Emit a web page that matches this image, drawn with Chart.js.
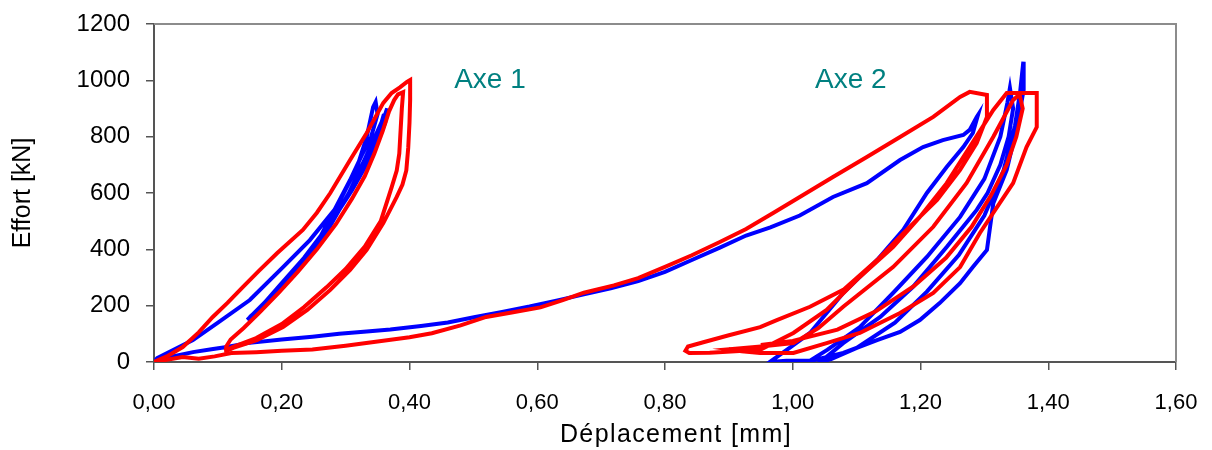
<!DOCTYPE html>
<html>
<head>
<meta charset="utf-8">
<script src="https://cdn.jsdelivr.net/npm/chart.js@4.4.1/dist/chart.umd.min.js"></script>
<style>
  body { margin: 0; background: #fff; }
  #wrap { width: 1212px; height: 450px; }
</style>
</head>
<body>
<div id="wrap"><canvas id="myChart"></canvas></div>
<script>
// Axe 1 - red loops (deplacement mm, effort kN)
let redAxe1 = [[0,0],[0.02,20],[0.045,53],[0.07,105],[0.092,160],[0.115,210],[0.139,266],[0.165,325],[0.193,387],[0.233,469],[0.255,530],[0.276,600],[0.307,717],[0.333,813],[0.359,920],[0.372,955],[0.385,975],[0.396,994],[0.401,1001],
  [0.401,930],[0.400,850],[0.398,760],[0.395,680],[0.389,630],[0.380,586],[0.359,493],[0.333,398],[0.307,327],[0.276,256],[0.240,185],[0.202,124],[0.161,78],[0.124,50],[0.114,40],
  [0.113,55],[0.12,80],[0.14,120],[0.165,175],[0.195,245],[0.225,320],[0.255,400],[0.285,490],[0.31,580],[0.33,660],[0.345,740],[0.358,820],[0.368,890],[0.376,930],[0.382,950],[0.39,958],
  [0.388,900],[0.386,820],[0.384,740],[0.380,680],[0.372,620],[0.355,500],[0.33,410],[0.30,330],[0.27,265],[0.235,195],[0.20,135],[0.16,85],[0.125,55],[0.11,40]];

// red curve going from axe 1 to axe 2, then the axe 2 loops
let redAxe2 = [[0,0],[0.02,8],[0.045,18],[0.07,12],[0.095,20],[0.121,32],[0.16,35],[0.2,40],[0.248,44],[0.30,58],[0.350,73],[0.40,88],[0.435,102],[0.48,130],[0.520,160],[0.56,176],[0.605,194],[0.64,220],[0.673,246],[0.72,272],[0.758,298],[0.80,338],[0.842,379],[0.885,425],[0.927,472],[0.97,530],[1.011,586],[1.063,657],[1.116,728],[1.168,799],[1.220,870],[1.262,941],[1.277,959],[1.304,948],[1.304,870],
  [1.288,777],[1.262,682],[1.226,575],[1.183,480],[1.132,362],[1.079,256],[1.027,196],[0.975,149],[0.949,124],[0.90,95],[0.86,70],[0.836,55],[0.832,40],[0.838,32],[0.87,33],[0.91,38],[0.949,43],
  [1.001,103],[1.053,185],[1.105,302],[1.157,408],[1.199,515],[1.241,635],[1.277,763],[1.314,895],[1.335,955],[1.382,955],[1.382,834],
  [1.366,763],[1.345,635],[1.324,564],[1.293,458],[1.262,337],[1.220,245],[1.168,174],[1.105,103],[1.053,67],[1.001,32],[0.949,32],[0.92,38],[0.90,45],
  [0.95,55],[1.001,67],[1.04,120],[1.079,196],[1.157,337],[1.220,480],[1.272,635],[1.314,800],[1.345,930],[1.355,950],[1.36,900],
  [1.35,800],[1.335,700],[1.31,590],[1.28,480],[1.24,370],[1.19,270],[1.13,180],[1.07,115],[1.00,75],[0.95,60]];

// Axe 1 - blue loops
let blueAxe1 = [[0,0],[0.005,14],[0.061,78],[0.099,138],[0.150,220],[0.202,337],[0.244,433],[0.286,550],[0.318,692],[0.333,799],[0.343,905],[0.347,923],
  [0.350,880],[0.340,800],[0.327,742],[0.307,646],[0.280,529],[0.255,422],[0.218,316],[0.182,231],[0.146,149],
  [0.16,175],[0.20,262],[0.24,372],[0.275,480],[0.305,600],[0.33,720],[0.35,820],[0.362,880],[0.365,900],
  [0.362,850],[0.350,780],[0.33,690],[0.31,610],[0.29,540],[0.265,460],[0.235,370],[0.20,280],[0.165,190],[0.15,160],
  [0.17,200],[0.21,300],[0.25,410],[0.285,520],[0.315,640],[0.34,760],[0.355,840],[0.36,880]];

// blue curve from axe 1 to axe 2, then axe 2 loops
let blueAxe2 = [[0,0],[0.02,15],[0.061,35],[0.09,45],[0.114,53],[0.146,67],[0.2,80],[0.248,90],[0.29,100],[0.333,108],[0.37,115],[0.418,128],[0.46,140],[0.503,160],[0.545,178],[0.588,197],[0.63,218],[0.673,240],[0.715,262],[0.758,287],[0.80,320],[0.842,362],[0.885,405],[0.927,449],[0.965,478],[1.011,520],[1.063,586],[1.116,635],[1.168,717],[1.204,763],[1.235,788],[1.267,806],[1.277,824],[1.288,870],[1.290,877],
  [1.282,813],[1.267,763],[1.241,692],[1.210,600],[1.173,469],[1.132,362],[1.079,245],[1.027,103],[0.995,50],[0.964,0],[0.99,4],[1.027,5],
  [1.054,43],[1.105,124],[1.157,245],[1.210,373],[1.262,515],[1.30,650],[1.325,800],[1.336,920],[1.340,973],
  [1.345,900],[1.338,800],[1.325,700],[1.305,600],[1.288,540],[1.241,408],[1.188,266],[1.137,160],[1.079,67],[1.043,0],
  [1.06,10],[1.10,50],[1.16,140],[1.21,250],[1.26,380],[1.30,520],[1.33,680],[1.348,840],[1.356,960],[1.361,1066],
  [1.362,1030],[1.361,966],[1.351,834],[1.335,682],[1.314,564],[1.304,398],[1.282,337],[1.262,280],[1.230,209],[1.199,149],[1.168,107],[1.132,78],[1.079,32],[1.022,0]];

// text labels put inside the plot
let noteText = ["Axe 1", "Axe 2"];
let noteX = [0.526, 1.091];
let noteY = [1000, 1000];

let xTitle = "Déplacement [mm]";

function toPoints(arr) {
    return arr.map(p => ({ x: p[0], y: p[1] }));
}

let fam = "'Liberation Sans', Arial, sans-serif";

// draws the gray frame, the x title and the "Axe" labels
const framePlugin = {
    id: "frame",
    afterDatasetsDraw(chart) {
        let ctx = chart.ctx;
        let a = chart.chartArea;
        ctx.save();
        ctx.strokeStyle = "#8c8c8c";
        ctx.lineWidth = 2;
        ctx.beginPath();
        ctx.moveTo(a.left, a.top);
        ctx.lineTo(a.right, a.top);
        ctx.lineTo(a.right, a.bottom);
        ctx.stroke();

        ctx.fillStyle = "#008080";
        ctx.font = "28px " + fam;
        ctx.textAlign = "center";
        ctx.textBaseline = "middle";
        for (let i = 0; i < noteText.length; i++) {
            let px = chart.scales.x.getPixelForValue(noteX[i]);
            let py = chart.scales.y.getPixelForValue(noteY[i]);
            ctx.fillText(noteText[i], px, py);
        }

        // x axis title, a bit spread like the original
        ctx.fillStyle = "#000";
        ctx.font = "25px " + fam;
        ctx.letterSpacing = "1.4px";
        ctx.fillText(xTitle, 676, 435);
        ctx.restore();
    }
};

let config = {
    type: "scatter",
    data: {
        datasets: [
            { data: toPoints(redAxe1), borderColor: "#ff0000" },
            { data: toPoints(redAxe2), borderColor: "#ff0000" },
            { data: toPoints(blueAxe1), borderColor: "#0000ff" },
            { data: toPoints(blueAxe2), borderColor: "#0000ff" }
        ]
    },
    options: {
        responsive: true,
        maintainAspectRatio: false,
        animation: false,
        showLine: true,
        elements: {
            point: { radius: 0, hoverRadius: 0 },
            line: { borderWidth: 4, tension: 0, fill: false }
        },
        layout: { padding: { top: 24, right: 36, left: 0, bottom: 0 } },
        plugins: {
            legend: { display: false },
            tooltip: { enabled: false }
        },
        scales: {
            x: {
                type: "linear",
                min: 0,
                max: 1.6,
                afterFit: (s) => { s.height = 88; s.paddingLeft = 0; s.paddingRight = 0; },
                border: { color: "#555", width: 2 },
                grid: { drawOnChartArea: false, drawTicks: true, tickLength: 8, color: "#555", lineWidth: 1.5 },
                ticks: {
                    stepSize: 0.2,
                    color: "#000",
                    font: { family: fam, size: 22 },
                    padding: 20,
                    maxRotation: 0,
                    callback: (v) => v.toFixed(2).replace(".", ",")
                },
                title: { display: false }
            },
            y: {
                min: 0,
                max: 1200,
                afterFit: (s) => { s.width = 154; s.paddingTop = 0; s.paddingBottom = 0; },
                border: { color: "#555", width: 2 },
                grid: { drawOnChartArea: false, drawTicks: true, tickLength: 8, color: "#555", lineWidth: 1.5 },
                ticks: {
                    stepSize: 200,
                    color: "#000",
                    font: { family: fam, size: 24 },
                    padding: 16,
                    callback: (v) => String(v)
                },
                title: { display: true, text: "Effort [kN]", color: "#000", font: { family: fam, size: 25 }, padding: { top: 8, bottom: 0 } }
            }
        }
    },
    plugins: [framePlugin]
};

let ctx = document.getElementById("myChart").getContext("2d");
let myChart = new Chart(ctx, config);
</script>
</body>
</html>
